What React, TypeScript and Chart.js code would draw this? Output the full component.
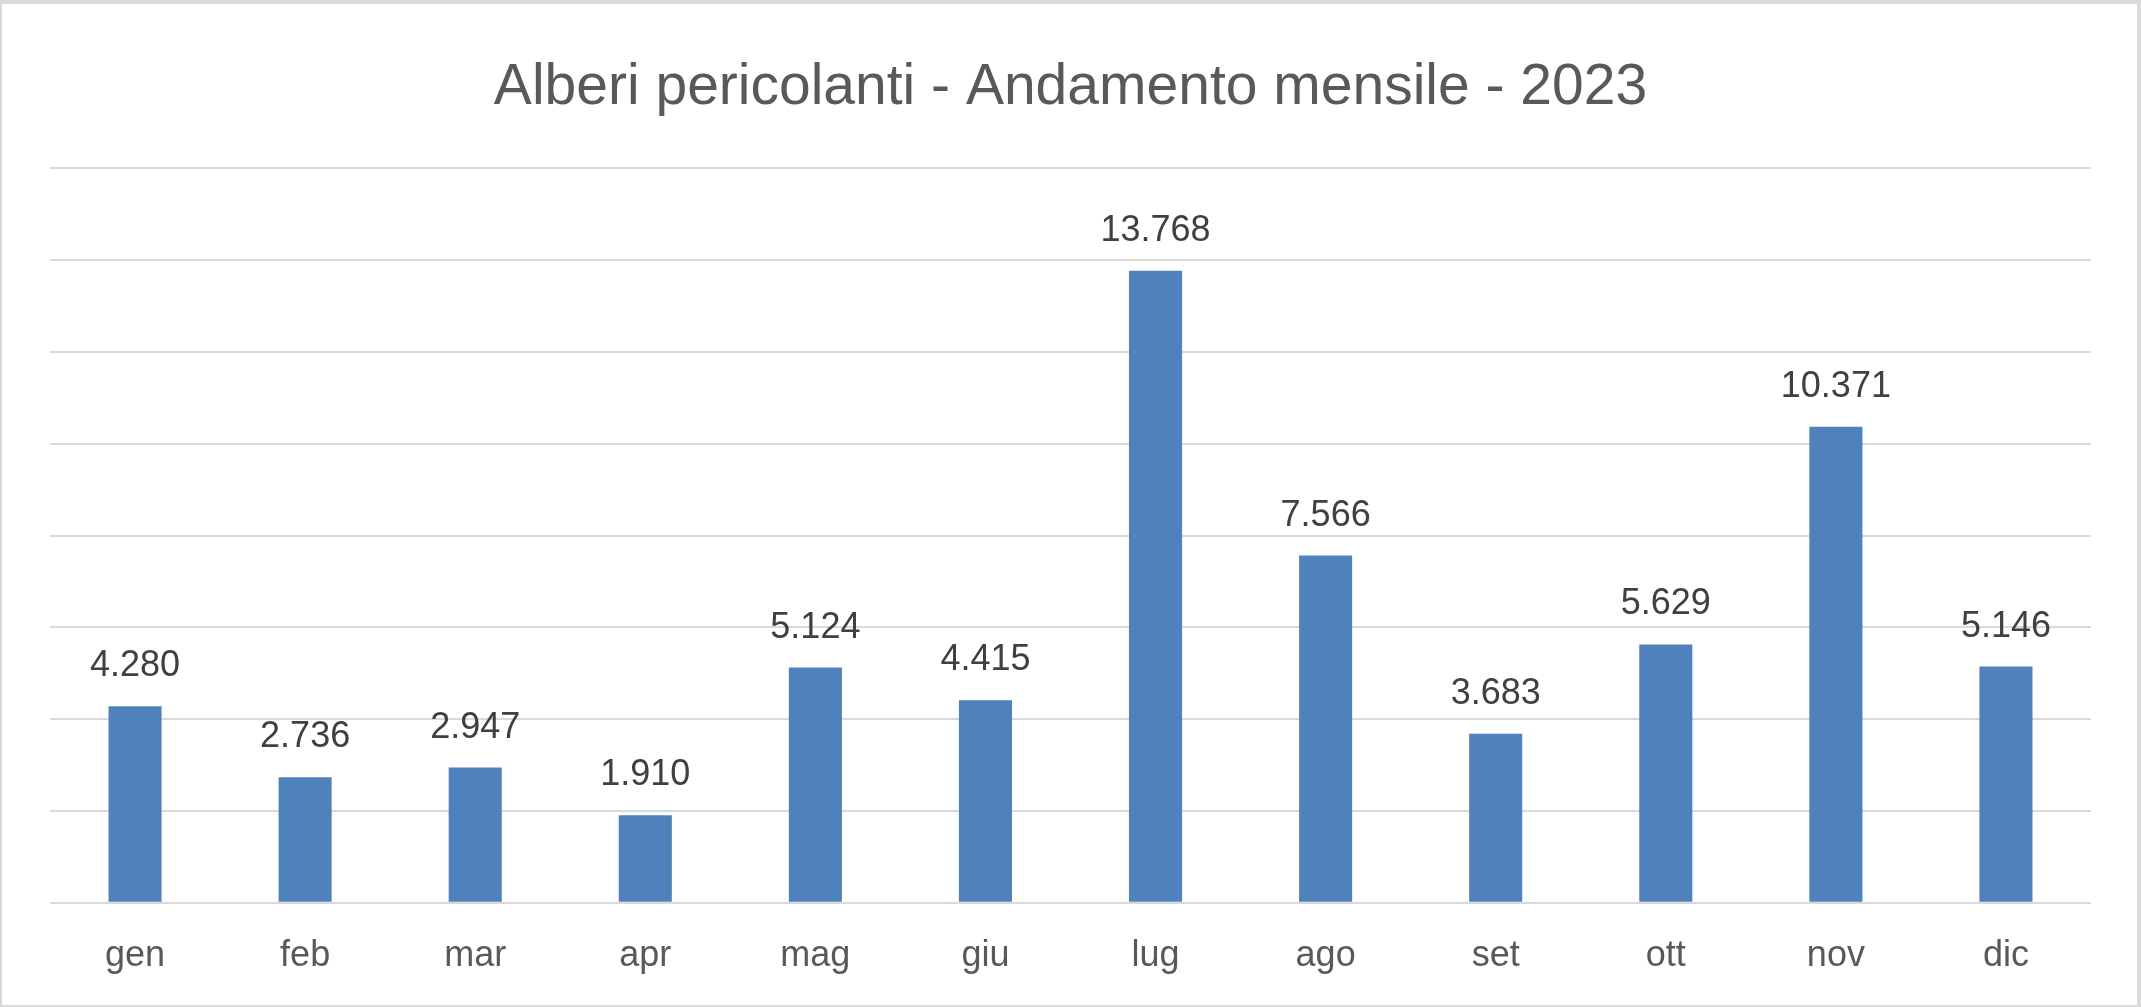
import React, { useEffect, useRef } from "react";
import { Chart, registerables } from "chart.js";

Chart.register(...registerables);

const TITLE = "Alberi pericolanti - Andamento mensile - 2023";
const MONTHS = ["gen", "feb", "mar", "apr", "mag", "giu", "lug", "ago", "set", "ott", "nov", "dic"];
const VALUES = [4280, 2736, 2947, 1910, 5124, 4415, 13768, 7566, 3683, 5629, 10371, 5146];
const Y_MIN = 0;
const Y_MAX = 16000;
const Y_STEP = 2000;

const FONT = "'Liberation Sans', Arial, sans-serif";

function fmt(v: number): string {
  return String(v).replace(/\B(?=(\d{3})+(?!\d))/g, ".");
}

const dataLabelPlugin = {
  id: "dataLabels",
  afterDatasetsDraw(chart: any) {
    const ctx = chart.ctx;
    const meta = chart.getDatasetMeta(0);
    ctx.save();
    ctx.font = `36px ${FONT}`;
    ctx.fillStyle = "#404040";
    ctx.textAlign = "center";
    ctx.textBaseline = "alphabetic";
    meta.data.forEach((bar: any, i: number) => {
      ctx.fillText(fmt(VALUES[i]), bar.x, bar.y - 30);
    });
    ctx.restore();
  },
};

export default function App() {
  const ref = useRef<HTMLCanvasElement | null>(null);
  useEffect(() => {
    document.body.style.margin = "0";
    const canvas = ref.current!;
    const chart = new Chart(canvas, {
      type: "bar",
      data: {
        labels: MONTHS,
        datasets: [
          {
            data: VALUES,
            backgroundColor: "#4F81BD",
            borderWidth: 0,
            barPercentage: 0.312,
            categoryPercentage: 1,
          },
        ],
      },
      options: {
        animation: false,
        responsive: false,
        devicePixelRatio: 1,
        layout: { padding: { top: 40, left: 48, right: 46, bottom: 0 } },
        plugins: {
          legend: { display: false },
          tooltip: { enabled: false },
          title: {
            display: true,
            text: TITLE,
            color: "#595959",
            font: { family: FONT, size: 57, weight: "normal", lineHeight: 1.2 },
            padding: { top: 10, bottom: 46 },
          },
        },
        scales: {
          x: {
            grid: { display: false, drawTicks: false },
            border: { display: false },
            ticks: {
              color: "#595959",
              font: { family: FONT, size: 36 },
              padding: 32,
            },
          },
          y: {
            min: Y_MIN,
            max: Y_MAX,
            grid: { color: "#d9d9d9", lineWidth: 2, drawTicks: false },
            border: { display: false },
            ticks: { display: false, stepSize: Y_STEP },
          },
        },
      },
      plugins: [dataLabelPlugin],
    });
    return () => chart.destroy();
  }, []);

  return (
    <div
      style={{
        position: "absolute",
        left: 0,
        top: 0,
        width: 2141,
        height: 1007,
        boxSizing: "border-box",
        overflow: "hidden",
        borderTop: "4px solid #d9d9d9",
        borderLeft: "2px solid #d9d9d9",
        borderRight: "4px solid #d9d9d9",
        borderBottom: "2px solid #d9d9d9",
        background: "#ffffff",
      }}
    >
      <canvas ref={ref} width={2135} height={1006} style={{ display: "block" }} />
    </div>
  );
}
